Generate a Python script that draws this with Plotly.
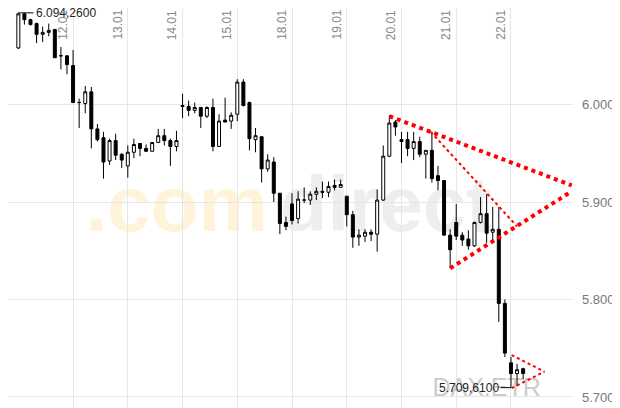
import plotly.graph_objects as go

# hourly candles, index 0..83
opens = [6058, 6093, 6087, 6083, 6072, 6074, 6077, 6050, 6050, 6040,
         6002, 6001, 6013, 5975, 5966, 5942, 5963, 5949, 5937, 5951,
         5960, 5955, 5952, 5961, 5968, 5963, 5957, 5999, 5998, 5994,
         5997, 5988, 5997, 5957, 5984, 5983, 5990, 6023, 6002, 5964,
         5967, 5934, 5941, 5909, 5879, 5898, 5883, 5902, 5902, 5908,
         5911, 5910, 5917, 5915, 5906, 5887, 5864, 5865, 5869, 5867,
         5902, 5947, 5982, 5964, 5964, 5955, 5962, 5949, 5953, 5927,
         5922, 5866, 5879, 5866, 5862, 5855, 5879, 5888, 5869, 5872,
         5796, 5735, 5724, 5729]
highs = [6094, 6094, 6088, 6084, 6080, 6083, 6077, 6059, 6050, 6056,
         6006, 6019, 6018, 5980, 5972, 5965, 5970, 5950, 5958, 5965,
         5960, 5959, 5961, 5975, 5975, 5965, 5973, 6011, 6004, 6002,
         5997, 5998, 6006, 5990, 6007, 5992, 6026, 6026, 6003, 5976,
         5967, 5949, 5946, 5909, 5885, 5909, 5911, 5915, 5911, 5915,
         5921, 5921, 5923, 5923, 5906, 5891, 5872, 5872, 5872, 5913,
         5958, 5989, 5984, 5972, 5972, 5972, 5967, 5953, 5972, 5937,
         5922, 5872, 5898, 5869, 5871, 5880, 5905, 5908, 5895, 5895,
         5800, 5741, 5734, 5730]
lows = [6057, 6082, 6081, 6063, 6064, 6070, 6048, 6036, 6031, 6002,
        5976, 5991, 5955, 5962, 5924, 5938, 5943, 5935, 5925, 5945,
        5947, 5952, 5952, 5961, 5958, 5937, 5952, 5986, 5988, 5991,
        5976, 5986, 5952, 5957, 5982, 5975, 5983, 5998, 5953, 5951,
        5920, 5931, 5900, 5867, 5871, 5877, 5878, 5899, 5897, 5902,
        5904, 5905, 5912, 5915, 5875, 5853, 5855, 5859, 5860, 5849,
        5901, 5946, 5968, 5940, 5947, 5943, 5946, 5924, 5920, 5912,
        5866, 5832, 5861, 5855, 5851, 5854, 5878, 5858, 5858, 5777,
        5741, 5709.61, 5711, 5718]
closes = [6093, 6087, 6082, 6072, 6074, 6076, 6048, 6050, 6041, 6002,
          6002, 6013, 5975, 5964, 5941, 5963, 5948, 5943, 5951, 5959,
          5955, 5952, 5961, 5968, 5963, 5957, 5963, 5998, 5994, 5997,
          5988, 5997, 5957, 5983, 5982, 5989, 6023, 5999, 5965, 5968,
          5934, 5943, 5909, 5878, 5875, 5881, 5903, 5902, 5908, 5911,
          5910, 5916, 5915, 5918, 5887, 5864, 5866, 5869, 5867, 5902,
          5947, 5981, 5977, 5962, 5955, 5962, 5949, 5953, 5924, 5922,
          5866, 5851, 5865, 5861, 5855, 5879, 5888, 5868, 5872, 5796,
          5745, 5724, 5728, 5724]
x = list(range(len(opens)))

day_labels = ["12.01", "13.01", "14.01", "15.01", "18.01", "19.01", "20.01", "21.01", "22.01"]
day_pos = [9, 18, 27, 36, 45, 54, 63, 72, 81]

# trend lines (index, value)
big_upper = ([61, 91], [5988, 5917])
big_lower = ([71, 91], [5832, 5911])
thin_line = ([67.8, 82], [5972, 5875])
small_upper = ([81.1, 86.5], [5743, 5726])
small_lower = ([81.1, 86.5], [5709, 5726])

fig = go.Figure()

# watermark behind candles (shape labels, layer below)
def watermark(x0, x1, y0, y1, text, color, size, pos, bold=True):
    fig.add_shape(type="rect", x0=x0, x1=x1, y0=y0, y1=y1, layer="below",
                  line=dict(width=0), fillcolor="rgba(0,0,0,0)",
                  label=dict(text=text, textposition=pos,
                             font=dict(size=size, color=color, family="Liberation Sans",
                                       weight="bold" if bold else "normal")))

watermark(10, 42, 5878, 5932, ".com", "#fff3d9", 78, "middle right")
watermark(42, 80, 5878, 5932, "direct", "#eeeeee", 78, "middle left")
watermark(60, 94, 5700, 5724, "DAX.ETR", "#cccccc", 25, "middle center", bold=False)

fig.add_trace(go.Candlestick(
    x=x, open=opens, high=highs, low=lows, close=closes,
    increasing=dict(line=dict(color="black", width=1), fillcolor="white"),
    decreasing=dict(line=dict(color="black", width=1), fillcolor="black"),
    whiskerwidth=0, showlegend=False))

for xs, ys, w in [(big_upper[0], big_upper[1], 4), (big_lower[0], big_lower[1], 4),
                  (thin_line[0], thin_line[1], 2), (small_upper[0], small_upper[1], 2),
                  (small_lower[0], small_lower[1], 2)]:
    fig.add_trace(go.Scatter(x=xs, y=ys, mode="lines", showlegend=False,
                             line=dict(color="#ff0000", width=w, dash="dot")))

# high / low markers
fig.add_trace(go.Scatter(x=[0, 2.5], y=[highs[0], highs[0]], mode="lines",
                         line=dict(color="black", width=1), showlegend=False))
fig.add_trace(go.Scatter(x=[79.3, 81], y=[5709.61, 5709.61], mode="lines",
                         line=dict(color="black", width=1), showlegend=False))
fig.add_annotation(x=2.5, y=highs[0], text="6.094,2600", showarrow=False, xanchor="left",
                   font=dict(size=12, color="#222"))
fig.add_annotation(x=79.3, y=5709.61, text="5.709,6100", showarrow=False, xanchor="right",
                   font=dict(size=12, color="#222"))

for p, lab in zip(day_pos, day_labels):
    fig.add_annotation(x=p - 0.2, y=1, yref="paper", text=lab, textangle=-90, showarrow=False,
                       xanchor="right", yanchor="top", font=dict(size=12, color="#888"))

fig.update_layout(
    width=612, height=400, margin=dict(l=0, r=47, t=0, b=0),
    plot_bgcolor="white", paper_bgcolor="white",
    separators=",.", font=dict(family="Liberation Sans"),
    xaxis=dict(range=[-1.7, 91.2], tickvals=day_pos, showticklabels=False,
               gridcolor="#e6e6e6", zeroline=False, rangeslider=dict(visible=False)),
    yaxis=dict(side="right", range=[5688.7, 6099], tickvals=[5700, 5800, 5900, 6000, 6100],
               tickformat=",d", gridcolor="#e6e6e6", zeroline=False,
               tickfont=dict(size=13, color="#777"), ticklabelstandoff=8),
)

fig.write_html("out.html")
